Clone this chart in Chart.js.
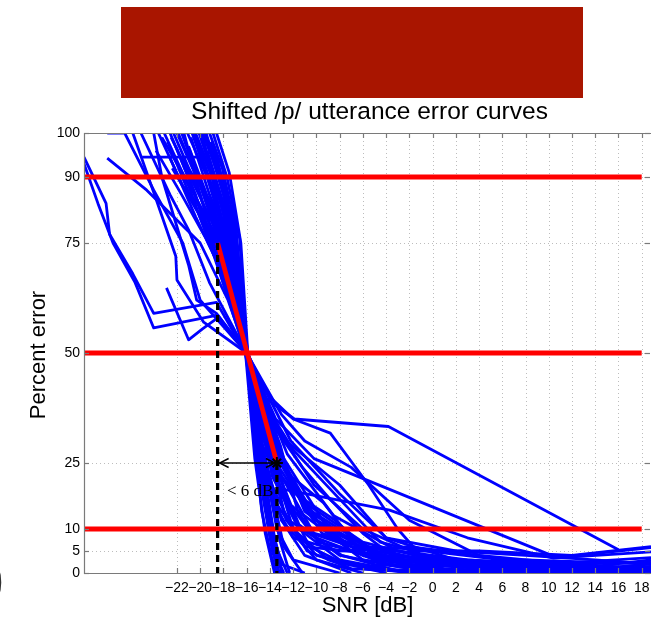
<!DOCTYPE html>
<html lang="en">
<head>
  <meta charset="UTF-8" />
  <title>Shifted /p/ utterance error curves</title>
  <script src="https://cdn.jsdelivr.net/npm/chart.js"></script>
  <style>
    html, body { margin: 0; padding: 0; background: #fff; }
    #wrap { width: 651px; height: 622px; }
  </style>
</head>
<body>
  <div id="wrap"><canvas id="errChart" width="651" height="622"></canvas></div>

  <script>
    // axis ticks
    const snrTicks = [-22, -20, -18, -16, -14, -12, -10, -8, -6, -4, -2, 0, 2, 4, 6, 8, 10, 12, 14, 16, 18];
    const errTicks = [0, 5, 10, 25, 50, 75, 90, 100];
    const snrMin = -30, snrMax = 18.8;

    // 90/50/10 % reference lines and their SNR span
    const thresholds = [90, 50, 10];
    const thresholdSpan = [-30, 18];

    // straight fit between 75 % and 25 %, and the SNR where it hits them
    const fitLine = [[-18.5, 75], [-13.4, 25]];
    const snrAt75 = -18.5;
    const snrAt25 = -13.4;

    // one [snr, percent error] list per utterance, shifted to meet at 50 %
    const errorCurves = [
      [[-30, 94.5], [-28.1, 84], [-27.8, 77], [-25.8, 68], [-24, 59], [-18.6, 61.5], [-16.1, 50], [-14.6, 25], [-13.6, 8], [-13, 0]],
      [[-30, 93], [-28.8, 84], [-27.5, 75], [-25.6, 66], [-24, 55.7], [-18.5, 58.6], [-16, 50], [-14, 28], [-11.5, 10], [-8, 3], [-2, 0]],
      [[-28, 94.3], [-24.6, 87], [-20, 75], [-17.6, 62], [-16, 50], [-13.5, 30], [-11, 14], [-6, 4], [0, 1], [8, 0]],
      [[-28, 100], [-26.5, 100], [-24, 87], [-21.5, 75], [-20, 62], [-18, 56], [-16, 50], [-15, 32], [-13, 12], [-10, 3], [-6, 0]],
      [[-22.9, 64.8], [-21, 53], [-19.8, 55.5], [-18.5, 58], [-16, 50], [-14.8, 26], [-13.5, 6], [-12.5, 0]],
      [[-25.8, 100], [-23.8, 85], [-22.1, 72], [-22, 66.6], [-19.7, 57], [-16, 50], [-12.8, 26], [-9, 10], [-4, 3], [4, 1], [12, 0]],
      [[-25, 94.5], [-19.4, 94.5], [-17.4, 72], [-16, 50], [-13.2, 24], [-9.5, 9], [-3, 3], [6, 1], [18.8, 0.3]],
      [[-25.1, 100], [-22.6, 86], [-21, 78], [-19.2, 66], [-16, 50], [-14.2, 30], [-12.8, 14], [-10.8, 5], [-7, 1], [0, 0]],
      [[-24, 100], [-23.3, 90], [-21, 70], [-20.3, 62], [-18.6, 59], [-16, 50], [-15.2, 30], [-14.5, 18], [-13.8, 5], [-13.2, 0]],
      [[-23.6, 100], [-21.5, 88], [-19, 80], [-17, 68], [-16, 50], [-13.5, 27], [-10, 12], [-5, 5], [2, 2], [10, 1], [18.8, 0.5]],
      [[-23.1, 100], [-21, 88], [-18.8, 72], [-16, 50], [-15.1, 25], [-14, 8], [-13.2, 0]],
      [[-22.6, 100], [-20.4, 86], [-18.5, 70], [-16.1, 50], [-15, 28], [-13.8, 10], [-13, 2], [-11, 0]],
      [[-22, 100], [-20, 88], [-18.2, 74], [-16, 50], [-14.6, 27], [-13.4, 10], [-12, 3], [-8, 0]],
      [[-21.6, 100], [-19.6, 86], [-17.9, 70], [-15.9, 50], [-14.2, 28], [-12.6, 12], [-10, 4], [-5, 1], [2, 0]],
      [[-21.1, 100], [-19.4, 90], [-17.8, 76], [-16, 50], [-13.8, 26], [-11.5, 11], [-8, 4], [-2, 1], [6, 0]],
      [[-20.7, 100], [-19.1, 88], [-17.5, 73], [-16, 50], [-13.4, 28], [-10.8, 14], [-7, 5], [0, 2], [8, 0.5], [18.8, 0]],
      [[-20.4, 100], [-18.9, 90], [-17.4, 76], [-16.1, 50], [-15.3, 26], [-14.4, 9], [-13.6, 0]],
      [[-20.1, 100], [-18.7, 89], [-17.2, 74], [-15.9, 50], [-12.8, 25], [-9.5, 10], [-5, 3], [1, 1], [10, 0]],
      [[-19.8, 100], [-18.5, 91], [-17.1, 77], [-16, 50], [-14.9, 30], [-13, 12], [-11, 4], [-7, 0]],
      [[-19.5, 100], [-18.3, 90], [-17, 78], [-16, 50], [-12.5, 27], [-8.5, 13], [-3, 5], [4, 2], [12, 1], [18.8, 1]],
      [[-19.2, 100], [-18.1, 92], [-16.9, 78], [-16, 50], [-14.6, 26], [-13.1, 7], [-12.3, 0]],
      [[-18.9, 100], [-17.7, 90], [-16.6, 76], [-16, 50], [-14, 30], [-11, 16], [-6, 7], [0, 3], [8, 1], [16, 0]],
      [[-18.6, 100], [-17.5, 91], [-16.5, 75], [-15.9, 50], [-13.2, 32], [-10.2, 20], [-6, 10], [-1, 4], [6, 2], [14, 1], [18.8, 2]],
      [[-21.8, 95], [-19, 84], [-17.6, 74], [-16, 50], [-14.8, 22], [-13.5, 4], [-12.8, 0]],
      [[-22.4, 92], [-20.2, 82], [-18, 68], [-16.1, 50], [-13.6, 24], [-12, 10], [-9, 3], [-4, 0]],
      [[-20.9, 96], [-19, 82], [-17.3, 68], [-16, 50], [-13, 22], [-10, 8], [-4, 2], [4, 0]],
      [[-23.8, 96], [-21.6, 86], [-19.5, 76], [-17, 62], [-16, 50], [-14.3, 24], [-12.8, 6], [-11.2, 0]],
      [[-21.3, 98], [-19.5, 86], [-18, 80], [-17, 70], [-16, 50], [-12.2, 30], [-8, 18], [-4, 8], [2, 3], [8, 2], [14, 1.5], [18.8, 3]],
      [[-19.6, 100], [-18, 86], [-17, 72], [-16, 50], [-14.5, 40], [-11.9, 35], [-3.8, 33.3], [16, 5.3]],
      [[-20.6, 100], [-18.9, 86], [-17.3, 74], [-16, 50], [-14, 40], [-12, 35], [-8.8, 31.8], [-5.5, 20], [-3, 10], [-1, 4], [4, 1], [10, 0]],
      [[-21.4, 100], [-19.8, 84], [-18, 70], [-16, 50], [-13.5, 35], [-10.2, 26], [-3.7, 19], [10.7, 3.5], [18.8, 5.8]],
      [[-22.3, 100], [-20, 86], [-18.3, 72], [-16, 50], [-13.8, 30], [-12.8, 19], [-3.7, 14.3], [3, 8], [10.4, 3.4], [18.8, 4.8]],
      [[-18.8, 97], [-17.8, 86], [-16.8, 72], [-16, 50], [-13, 36], [-11, 30], [-7, 24], [-2, 12], [4, 4], [8, 2], [16, 1], [18.8, 1.5]],
      [[-20, 97], [-18.6, 88], [-17, 74], [-16, 50], [-14.2, 36], [-12.6, 30], [-8, 20], [-4, 8], [2, 5], [8, 4], [14, 3], [18.8, 2]],
      [[-19.9, 100], [-18.4, 86], [-17, 70], [-16, 50], [-13.8, 22], [-11.5, 10], [-6, 6], [-2, 5.5], [6, 3], [18.8, 1]],
      [[-21.2, 96], [-19.2, 84], [-17.6, 72], [-16, 50], [-14.5, 20], [-12, 8], [-8, 5], [-2, 6], [4, 4], [12, 2], [18.8, 2.5]],
      [[-22.8, 98], [-20.6, 84], [-18.6, 74], [-16, 50], [-14, 18], [-11, 6], [-4, 4], [4, 2], [12, 0.5]],
      [[-20.3, 98], [-18.6, 85], [-17.2, 72], [-16, 50], [-14.8, 30], [-12.5, 16], [-9, 9], [-6, 3], [-1, 1], [6, 0]],
      [[-21.9, 100], [-19.8, 87], [-17.9, 73], [-16, 50], [-13.9, 25], [-11.8, 18], [-8.4, 12], [-5, 4], [0, 2], [9, 0]],
      [[-19.4, 96], [-18, 84], [-16.9, 72], [-15.9, 50], [-14.4, 34], [-12.2, 22], [-9.4, 16], [-6.5, 6], [-2.5, 2], [5, 1], [14, 0]],
      [[-22.1, 97], [-20, 83], [-18.1, 71], [-16, 50], [-14.6, 31], [-13.2, 20], [-10.6, 6], [-7.5, 2], [-2, 0]],
      [[-20.8, 99], [-19.2, 86], [-17.6, 76], [-16, 50], [-13.1, 29], [-11.6, 14], [-9.8, 7], [-4, 3], [3, 3], [10, 2], [18.8, 3.5]],
      [[-23.3, 99], [-20.9, 88], [-18.9, 78], [-16, 50], [-14.2, 22], [-12.4, 12], [-7.8, 4], [-3, 0.5], [4, 0]],
      [[-19.1, 98], [-17.9, 88], [-16.8, 74], [-16, 50], [-15.4, 32], [-14.7, 14], [-13.9, 4], [-13.4, 0]],
      [[-21.5, 94], [-19.7, 80], [-17.8, 67], [-16, 50], [-15, 34], [-13, 18], [-10.4, 9], [-7, 6], [-3, 5], [3, 3], [9, 2], [18.8, 1]],
      [[-20.5, 100], [-19, 90], [-17.5, 80], [-16.1, 50], [-14.9, 35], [-12.9, 24], [-11, 15], [-8, 10], [-5.5, 6], [-1, 3], [6, 1], [16, 0]],
      [[-22.7, 95], [-20.4, 81], [-18.4, 70], [-16, 50], [-14.1, 37], [-12, 28], [-9.5, 21], [-7, 14], [-4.5, 7], [-1.5, 5], [4, 5], [12, 4], [18.8, 6]],
      [[-21, 97], [-19.3, 85], [-17.7, 74], [-16, 50], [-13.6, 33], [-11.2, 24], [-8.9, 17], [-6, 9], [-3.5, 4], [2, 2], [8, 3], [18.8, 2]],
      [[-22.5, 99], [-20.3, 87], [-18.3, 76], [-16, 50], [-14.7, 29], [-12.8, 21], [-10, 13], [-7.4, 8], [-4.6, 2], [1, 0]]
    ];

    const SANS = '"Liberation Sans", Arial, Helvetica, sans-serif';
    const SERIF = '"Liberation Serif", "Times New Roman", serif';

    function fmtSnr(v) {
      return v < 0 ? '\u2212' + Math.abs(v) : String(v);
    }

    function seg(ctx, x1, y1, x2, y2) {
      ctx.beginPath();
      ctx.moveTo(x1, y1);
      ctx.lineTo(x2, y2);
      ctx.stroke();
    }

    // dotted grid under the curves, box + inward ticks, annotations and titles on top
    const framePlugin = {
      id: 'frame',
      beforeDatasetsDraw(chart) {
        const { ctx, chartArea: a, scales: { x, y } } = chart;
        ctx.save();
        ctx.strokeStyle = '#bdbdbd';
        ctx.lineWidth = 1;
        ctx.setLineDash([1, 3]);
        snrTicks.forEach(v => {
          const px = Math.round(x.getPixelForValue(v)) + 0.5;
          seg(ctx, px, a.top, px, a.bottom);
        });
        errTicks.forEach(v => {
          const py = Math.round(y.getPixelForValue(v)) + 0.5;
          seg(ctx, a.left, py, a.right, py);
        });
        ctx.restore();
      },
      afterDatasetsDraw(chart) {
        const { ctx, chartArea: a, scales: { x, y } } = chart;
        ctx.save();

        // axes box
        ctx.strokeStyle = '#7a7a7a';
        ctx.lineWidth = 1.2;
        ctx.beginPath();
        ctx.moveTo(a.right + 2, a.top + 0.5);
        ctx.lineTo(a.left + 0.5, a.top + 0.5);
        ctx.lineTo(a.left + 0.5, a.bottom + 0.5);
        ctx.lineTo(a.right + 2, a.bottom + 0.5);
        ctx.stroke();

        // inward tick marks
        const tl = 5;
        snrTicks.forEach(v => {
          const px = Math.round(x.getPixelForValue(v)) + 0.5;
          seg(ctx, px, a.bottom, px, a.bottom - tl);
          seg(ctx, px, a.top, px, a.top + tl);
        });
        errTicks.forEach(v => {
          const py = Math.round(y.getPixelForValue(v)) + 0.5;
          seg(ctx, a.left, py, a.left + tl, py);
          seg(ctx, a.right - 1, py, a.right - 1 - tl, py);
        });

        // double arrow between the 75 % and 25 % crossings
        const ay = y.getPixelForValue(25);
        const x1 = x.getPixelForValue(snrAt75) + 2;
        const x2 = x.getPixelForValue(snrAt25) - 2;
        ctx.strokeStyle = '#000';
        ctx.lineWidth = 1.4;
        seg(ctx, x1, ay, x2, ay);
        ctx.beginPath();
        ctx.moveTo(x1 + 9, ay - 4.5); ctx.lineTo(x1, ay); ctx.lineTo(x1 + 9, ay + 4.5);
        ctx.moveTo(x2 - 9, ay - 4.5); ctx.lineTo(x2, ay); ctx.lineTo(x2 - 9, ay + 4.5);
        ctx.stroke();

        ctx.fillStyle = '#000';
        ctx.font = '17px ' + SERIF;
        ctx.textAlign = 'center';
        ctx.textBaseline = 'alphabetic';
        ctx.fillText('< 6 dB', x.getPixelForValue(-15.7), y.getPixelForValue(17.5));
        ctx.restore();
      },
      afterDraw(chart) {
        const { ctx, chartArea: a } = chart;
        ctx.save();
        ctx.fillStyle = '#000';
        ctx.textAlign = 'center';
        ctx.textBaseline = 'alphabetic';
        const cx = (a.left + a.right) / 2;

        ctx.font = '24.5px ' + SANS;
        ctx.fillText('Shifted /p/ utterance error curves', cx + 2, 119);

        ctx.font = '22px ' + SANS;
        ctx.fillText('SNR [dB]', cx, 612);

        ctx.save();
        ctx.translate(45, (a.top + a.bottom) / 2 + 2);
        ctx.rotate(-Math.PI / 2);
        ctx.fillText('Percent error', 0, 0);
        ctx.restore();

        // cropped glyph at the left edge
        ctx.fillStyle = '#333';
        ctx.font = '60px ' + SANS;
        ctx.textAlign = 'left';
        ctx.fillText(')', -15, 598);

        // blanked-out header block
        ctx.fillStyle = '#a91500';
        ctx.fillRect(121, 7, 462, 91);
        ctx.restore();
      }
    };

    const datasets = [];

    // black dashed markers and the star at the 25 % crossing
    datasets.push({
      data: [{ x: snrAt75, y: 75 }, { x: snrAt75, y: 0 }],
      borderColor: '#000', borderWidth: 3.2, borderDash: [7, 5], order: 0
    });
    datasets.push({
      data: [{ x: snrAt25, y: 25 }, { x: snrAt25, y: 0 }],
      borderColor: '#000', borderWidth: 3.2, borderDash: [7, 5], order: 0
    });
    datasets.push({
      data: [{ x: snrAt25, y: 25 }],
      showLine: false, pointStyle: 'star', pointRadius: 6,
      borderColor: '#000', borderWidth: 2, order: 0
    });

    // red fit and reference lines
    datasets.push({
      data: fitLine.map(([sx, e]) => ({ x: sx, y: e })),
      borderColor: '#ff0000', borderWidth: 4.8, order: 1
    });
    thresholds.forEach(t => {
      datasets.push({
        data: thresholdSpan.map(sx => ({ x: sx, y: t })),
        borderColor: '#ff0000', borderWidth: 4.8, order: 1
      });
    });

    // blue utterance curves
    errorCurves.forEach(c => {
      datasets.push({
        data: c.map(([sx, e]) => ({ x: sx, y: e })),
        borderColor: '#0000ff', borderWidth: 2.8, order: 2
      });
    });

    new Chart(document.getElementById('errChart'), {
      type: 'scatter',
      data: { datasets },
      options: {
        responsive: false,
        animation: false,
        events: [],
        showLine: true,
        elements: {
          point: { radius: 0 },
          line: { tension: 0, borderCapStyle: 'butt', borderJoinStyle: 'round' }
        },
        layout: { autoPadding: false, padding: { top: 133, right: 0, bottom: 0, left: 0 } },
        plugins: { legend: { display: false }, tooltip: { enabled: false } },
        scales: {
          x: {
            type: 'linear',
            min: snrMin,
            max: snrMax,
            grid: { display: false, drawTicks: false },
            border: { display: false },
            afterBuildTicks: s => { s.ticks = snrTicks.map(v => ({ value: v })); },
            afterFit: s => { s.height = 49; s.paddingLeft = 0; s.paddingRight = 0; },
            ticks: {
              autoSkip: false,
              maxRotation: 0,
              padding: 7,
              color: '#000',
              font: { family: SANS, size: 14 },
              callback: v => fmtSnr(v)
            }
          },
          y: {
            type: 'linear',
            min: 0,
            max: 100,
            grid: { display: false, drawTicks: false },
            border: { display: false },
            afterBuildTicks: s => { s.ticks = errTicks.map(v => ({ value: v })); },
            afterFit: s => { s.width = 84; s.paddingTop = 0; s.paddingBottom = 0; },
            ticks: {
              padding: 4,
              color: '#000',
              font: { family: SANS, size: 14 }
            }
          }
        }
      },
      plugins: [framePlugin]
    });
  </script>
</body>
</html>
